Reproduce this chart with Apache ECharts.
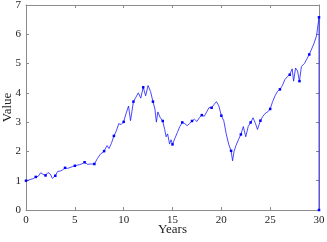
<!DOCTYPE html>
<html>
<head>
<meta charset="utf-8">
<script src="https://cdn.jsdelivr.net/npm/echarts@6/dist/echarts.min.js"></script>
<style>
  html, body { margin: 0; padding: 0; background: #fff; }
  #chart { width: 327px; height: 242px; }
</style>
</head>
<body>
<div id="chart"></div>
<script>
// values (years vs value)
var years = [0, 0.25, 0.5, 0.75, 1, 1.25, 1.5, 1.75, 2, 2.25, 2.5, 2.7, 3, 3.25, 3.5, 3.75,
  4, 4.25, 4.5, 4.75, 5, 5.25, 5.5, 5.75, 6, 6.3, 6.6, 7, 7.3, 7.6, 8, 8.3, 8.5, 8.75,
  9, 9.25, 9.5, 9.75, 10, 10.25, 10.5, 10.7, 11, 11.25, 11.5, 11.75, 12, 12.25, 12.5, 12.75,
  13, 13.2, 13.35, 13.5, 13.75, 14, 14.2, 14.35, 14.5, 14.7, 14.85, 15, 15.25, 15.5, 15.75,
  16, 16.25, 16.5, 16.75, 17, 17.25, 17.5, 17.75, 18, 18.25, 18.5, 18.75, 19, 19.25, 19.5, 19.75,
  20, 20.25, 20.5, 20.75, 21, 21.15, 21.3, 21.5, 21.75, 22, 22.25, 22.5, 22.75, 23, 23.25, 23.5, 23.7,
  24, 24.25, 24.5, 24.75, 25, 25.25, 25.5, 25.75, 26, 26.25, 26.5, 26.75, 27, 27.25, 27.4, 27.6, 27.8,
  28, 28.2, 28.5, 28.75, 29, 29.25, 29.5, 29.75, 30, 30];
var values = [1.00, 1.02, 1.05, 1.07, 1.13, 1.15, 1.27, 1.22, 1.18, 1.28, 1.22, 1.08, 1.17, 1.32, 1.33, 1.37,
  1.44, 1.42, 1.45, 1.48, 1.51, 1.53, 1.55, 1.58, 1.63, 1.56, 1.57, 1.57, 1.75, 1.90, 2.01, 2.20, 2.10, 2.28,
  2.53, 2.70, 2.95, 2.92, 3.01, 3.30, 3.55, 3.05, 3.70, 3.85, 4.00, 3.82, 4.19, 3.90, 4.25, 4.05,
  3.70, 3.45, 3.00, 3.35, 3.15, 3.04, 2.75, 2.50, 2.60, 2.25, 2.40, 2.24, 2.45, 2.65, 2.85,
  2.99, 2.95, 2.88, 2.95, 3.04, 3.10, 3.02, 3.15, 3.24, 3.20, 3.35, 3.50, 3.49, 3.60, 3.70, 3.55,
  3.22, 3.05, 2.60, 2.25, 2.02, 1.68, 2.00, 2.20, 2.40, 2.58, 2.85, 2.50, 2.85, 2.99, 3.15, 2.95, 2.75,
  3.05, 3.20, 3.30, 3.35, 3.45, 3.70, 3.90, 4.05, 4.12, 4.25, 4.45, 4.55, 4.62, 4.82, 4.40, 4.85, 4.75,
  4.40, 4.90, 5.00, 5.15, 5.31, 5.50, 5.70, 5.95, 6.58, 0];

var xTicks = { min: 0, max: 30, interval: 5 };
var yTicks = { min: 0, max: 7, interval: 1 };

var lineColor = '#1a1aff';
var frameColor = '#8c8c8c';
var fontFam = 'Liberation Serif';

var data = years.map(function (t, i) {
  var item = { value: [t, values[i]] };
  // a dot on every whole year
  if (Number.isInteger(t)) {
    item.symbol = 'rect';
    item.symbolSize = 2.5;
  } else {
    item.symbol = 'none';
  }
  return item;
});

function axisBase(pos, ticks, showLabel, name) {
  return {
    type: 'value',
    position: pos,
    min: ticks.min,
    max: ticks.max,
    interval: ticks.interval,
    name: name || '',
    nameLocation: 'middle',
    nameMoveOverlap: false,
    nameTextStyle: { fontFamily: fontFam, fontSize: 13, color: '#222' },
    axisLine: { show: true, onZero: false, lineStyle: { color: frameColor, width: 1 } },
    axisTick: { show: true, inside: true, length: 3, lineStyle: { color: frameColor } },
    axisLabel: { show: showLabel, fontFamily: fontFam, fontSize: 11, color: '#222', margin: 5 },
    splitLine: { show: false }
  };
}

var xMain = axisBase('bottom', xTicks, true, 'Years');
xMain.nameGap = 13;
var yMain = axisBase('left', yTicks, true, 'Value');
yMain.nameGap = 12;

var chart = echarts.init(document.getElementById('chart'));
chart.setOption({
  animation: false,
  grid: { left: 26, right: 8, top: 5, bottom: 32, containLabel: false, outerBoundsMode: 'none' },
  xAxis: [xMain, axisBase('top', xTicks, false)],
  yAxis: [yMain, axisBase('right', yTicks, false)],
  series: [{
    type: 'line',
    data: data,
    showAllSymbol: true,
    lineStyle: { color: lineColor, width: 0.8 },
    itemStyle: { color: '#0000ff' }
  }]
});
</script>
</body>
</html>
